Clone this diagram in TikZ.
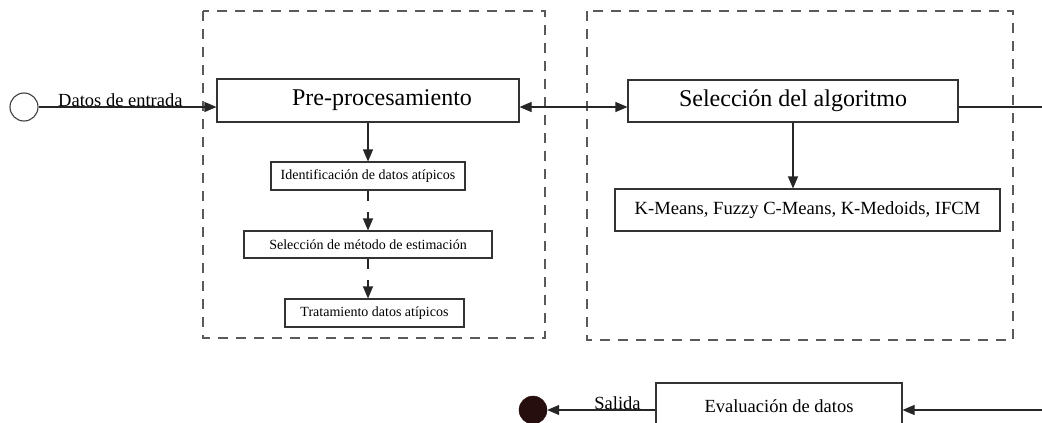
\documentclass[tikz,border=0pt]{standalone}
\usepackage{fontspec}
\setmainfont{Liberation Serif}
\usetikzlibrary{arrows.meta,calc}
\definecolor{dashgray}{RGB}{90,90,90}
\definecolor{endfill}{RGB}{38,14,14}
\tikzset{
  box/.style={draw=black!80, line width=1.1pt, fill=white, inner sep=0pt, align=center},
  dbox/.style={draw=dashgray, line width=1.4pt, dash pattern=on 10pt off 8pt},
  conn/.style={draw=black!85, line width=1.1pt},
  tip/.tip={Triangle[length=12pt,width=10pt]},
  arr/.style={conn, -tip},
  arrboth/.style={conn, tip-tip},
  darr/.style={arr, dash pattern=on 10pt off 11pt},
  lbl/.style={inner sep=0pt, font=\fontsize{18.5}{21}\selectfont}
}
\begin{document}
\begin{tikzpicture}[x=1pt,y=-1pt]
\useasboundingbox[fill=white] (0,0) rectangle (1042,423);
% dashed frames
\draw[dbox] (203,11) rectangle (545,338);
\draw[dbox] (587,11) rectangle (1013,340);
% nodes
\node[box, minimum width=302pt, minimum height=43pt, font=\fontsize{24}{27}\selectfont] (pre) at (368,100.5) {\hspace*{28pt}Pre-procesamiento};
\node[box, minimum width=330pt, minimum height=42pt, font=\fontsize{24}{27}\selectfont] (sel) at (793,101) {Selección del algoritmo};
\node[box, minimum width=385pt, minimum height=42pt, font=\fontsize{18.6}{21}\selectfont] (km) at (807.5,210) {K-Means, Fuzzy C-Means, K-Medoids, IFCM};
\node[box, minimum width=194pt, minimum height=28pt, font=\fontsize{14}{16}\selectfont] (id) at (368,176) {Identificación de datos atípicos};
\node[box, minimum width=248pt, minimum height=27pt, font=\fontsize{14}{16}\selectfont] (met) at (368,244.5) {Selección de método de estimación};
\node[box, minimum width=179pt, minimum height=28pt, font=\fontsize{14}{16}\selectfont] (tra) at (374.5,313) {Tratamiento datos atípicos};
\node[box, minimum width=246pt, minimum height=46pt, font=\fontsize{18.5}{21}\selectfont] (eva) at (779,406) {Evaluación de datos};
\node[circle, draw=black!75, line width=1.1pt, fill=white, minimum size=28pt, inner sep=0pt] (st) at (24,107) {};
\node[circle, draw=endfill, fill=endfill, minimum size=28pt, inner sep=0pt] (en) at (533,410) {};
\coordinate (re) at (1042,107);
\coordinate (be) at (1042,410);
% connectors
\draw[arr] (st) -- (st -| pre.west) node[lbl, pos=0.46, anchor=base, yshift=1pt] (lin) {Datos de entrada};
\draw[arrboth] (pre.east |- st) -- (sel.west |- st);
\draw[conn] (sel.east |- re) -- (re);
\draw[arr] (pre.south) -- (id.north);
\draw[darr] (id.south) -- (met.north);
\draw[darr] (met.south) -- (met.south |- tra.north);
\draw[arr] (sel.south) -- (sel.south |- km.north);
\draw[arr] (be) -- (eva.east |- be);
\draw[arr] (eva.west |- be) -- (en) node[lbl, pos=0.35, anchor=base, yshift=1pt] (lout) {Salida};
\end{tikzpicture}
\end{document}
